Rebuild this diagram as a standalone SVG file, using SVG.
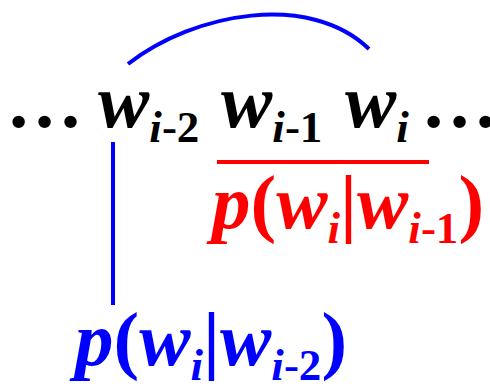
<svg xmlns="http://www.w3.org/2000/svg" width="490" height="392" viewBox="0 0 490 392">
<style>
text{font-family:"Liberation Serif","Times New Roman",serif;font-weight:bold}
.m{font-size:77px}
.s{font-size:45px}
.it{font-style:italic}
.up{font-style:normal}
.blk{fill:#000}
.red{fill:#ff0000}
.blu{fill:#0000ff}
</style>
<rect width="490" height="392" fill="#fff"/>
<g id="connectors" fill="none" stroke-width="4">
<path d="M128,64 C195,12 310,-8 369,49" stroke="#0000ff"/>
<line x1="113" y1="142" x2="113" y2="305" stroke="#0000ff"/>
<line x1="217" y1="162" x2="429" y2="162" stroke="#ff0000"/>
</g>
<g id="sequence">
<text class="m blk" x="6" y="127">…</text>
<text class="blk" x="98" y="127"><tspan class="m it">w</tspan><tspan class="s it" dy="15">i</tspan><tspan class="s up">-2</tspan></text>
<text class="blk" x="221" y="127"><tspan class="m it">w</tspan><tspan class="s it" dy="15">i</tspan><tspan class="s up">-1</tspan></text>
<text class="blk" x="345" y="127"><tspan class="m it">w</tspan><tspan class="s it" dy="15">i</tspan></text>
<text class="m blk" x="421" y="127">…</text>
</g>
<g id="bigram">
<text class="red" x="212" y="228"><tspan class="m it">p</tspan><tspan class="m up">(</tspan><tspan class="m it">w</tspan><tspan class="s it" dy="15">i</tspan><tspan class="m up" dy="-15">|</tspan><tspan class="m it">w</tspan><tspan class="s it" dy="15">i</tspan><tspan class="s up">-1</tspan><tspan class="m up" dy="-15">)</tspan></text>
</g>
<g id="skip">
<text class="blu" x="75" y="365"><tspan class="m it">p</tspan><tspan class="m up">(</tspan><tspan class="m it">w</tspan><tspan class="s it" dy="15">i</tspan><tspan class="m up" dy="-15">|</tspan><tspan class="m it">w</tspan><tspan class="s it" dy="15">i</tspan><tspan class="s up">-2</tspan><tspan class="m up" dy="-15">)</tspan></text>
</g>
</svg>
